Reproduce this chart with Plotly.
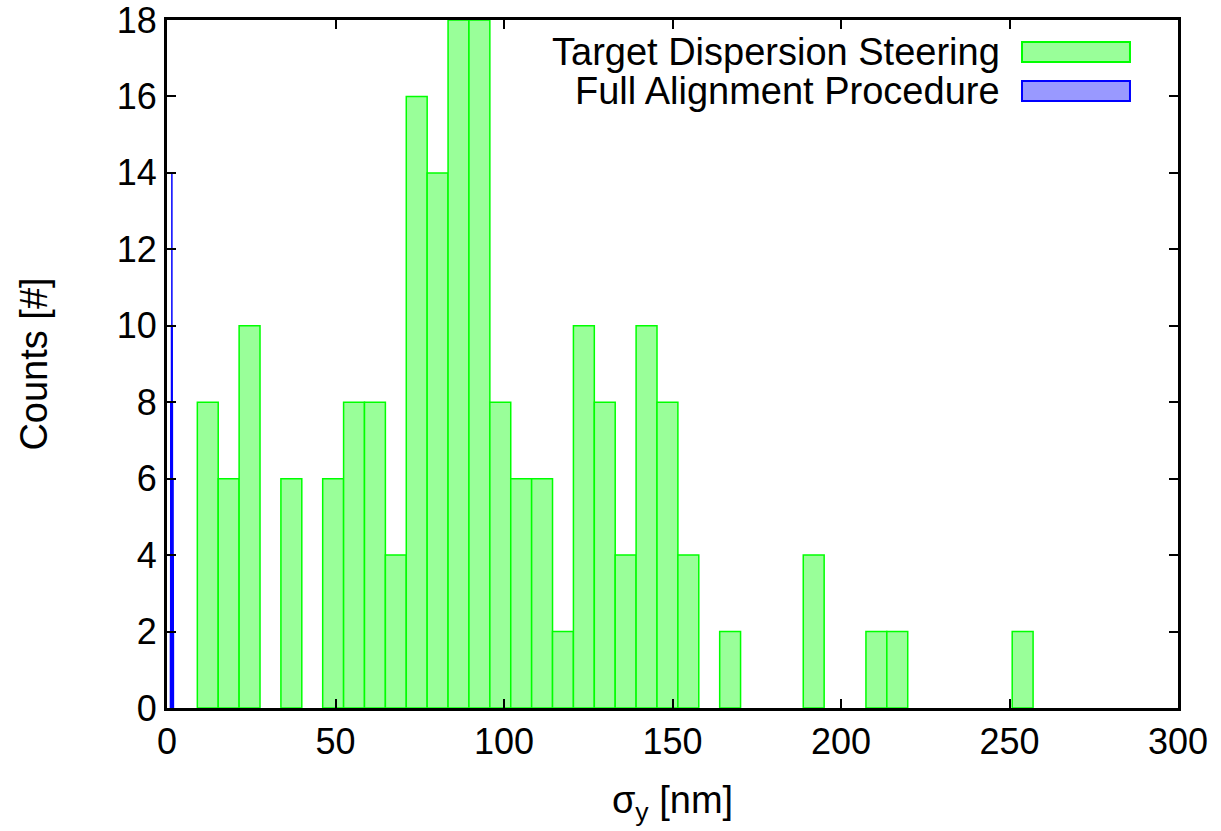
import plotly.graph_objects as go

# Target Dispersion Steering histogram (bin width 6.2 nm), non-empty bins only
tds_centers = [12.1, 18.3, 24.5, 36.9, 49.3, 55.5, 61.7, 67.9, 74.1, 80.3, 86.5, 92.7,
               98.9, 105.1, 111.3, 117.5, 123.7, 129.9, 136.1, 142.3, 148.5, 154.7,
               167.1, 191.9, 210.5, 216.7, 253.9]
tds_counts = [8, 6, 10, 6, 6, 8, 8, 4, 16, 14, 18, 18,
              8, 6, 6, 2, 10, 8, 4, 10, 8, 4,
              2, 4, 2, 2, 2]
tds_width = 6.2

# Full Alignment Procedure histogram (very narrow bins near 1-2 nm)
fap_centers = [1.00, 1.05, 1.10, 1.15, 1.20, 1.25, 1.30, 1.35, 1.40, 1.45, 1.50,
               1.55, 1.60, 1.65, 1.70, 1.75, 1.80, 1.85, 1.90, 1.95]
fap_counts = [2, 4, 6, 8, 8, 8, 10, 10, 10, 14, 10,
              8, 8, 8, 6, 6, 4, 4, 2, 2]
fap_width = 0.05

x_ticks = [0, 50, 100, 150, 200, 250, 300]
y_ticks = [0, 2, 4, 6, 8, 10, 12, 14, 16, 18]

series_names = ["Target Dispersion Steering", "Full Alignment Procedure"]
fill_colors = ["rgb(153,255,153)", "rgb(153,153,255)"]
line_colors = ["rgb(0,255,0)", "rgb(0,0,255)"]

FONT = "Liberation Sans, Arial, Helvetica, sans-serif"

fig = go.Figure()
fig.add_trace(go.Bar(
    x=tds_centers, y=tds_counts, width=tds_width, name=series_names[0],
    marker=dict(color=fill_colors[0], line=dict(color=line_colors[0], width=1.5)),
    showlegend=False,
))
fig.add_trace(go.Bar(
    x=fap_centers, y=fap_counts, width=fap_width, name=series_names[1],
    marker=dict(color=fill_colors[1], line=dict(color=line_colors[1], width=1)),
    showlegend=False,
))

axis_common = dict(
    showline=True, linecolor="black", linewidth=3, mirror="ticks",
    ticks="inside", ticklen=9, tickwidth=2, tickcolor="black",
    showgrid=False, zeroline=False, ticklabeloverflow="allow", automargin=False,
    tickfont=dict(family=FONT, size=36, color="black"),
)

fig.update_layout(
    width=1221, height=831,
    margin=dict(l=167, r=43, t=20, b=123, autoexpand=False),
    plot_bgcolor="white", paper_bgcolor="white",
    barmode="overlay",
    xaxis=dict(range=[0, 300], tickvals=x_ticks, ticktext=[str(v) for v in x_ticks],
               title=dict(text="σ<sub>y</sub> [nm]", font=dict(family=FONT, size=38, color="black"),
                          standoff=26),
               **axis_common),
    yaxis=dict(range=[0, 18], tickvals=y_ticks, ticktext=[str(v) for v in y_ticks],
               title=dict(text="Counts [#]", font=dict(family=FONT, size=38, color="black"),
                          standoff=58),
               **axis_common),
)

# gnuplot-style key: text right-aligned, sample box on the right
key_rows_y = [0.9535, 0.8968]
box_half_h = 0.0145
for name, fc, lc, yc in zip(series_names, fill_colors, line_colors, key_rows_y):
    fig.add_annotation(
        xref="paper", yref="paper", x=0.826, y=yc, xanchor="right", yanchor="middle",
        text=name, showarrow=False,
        font=dict(family=FONT, size=38, color="black"),
    )
    fig.add_shape(
        type="rect", xref="paper", yref="paper",
        x0=0.8457, x1=0.9525, y0=yc - box_half_h, y1=yc + box_half_h,
        fillcolor=fc, line=dict(color=lc, width=2),
    )

fig.write_html("out.html")
